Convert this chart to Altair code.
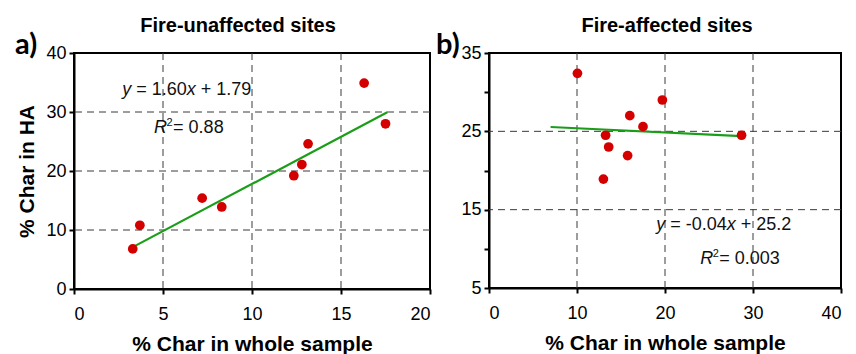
import altair as alt
import pandas as pd

# ---------------- data ----------------
a_x = [3.3, 3.7, 7.2, 8.3, 12.35, 12.8, 13.15, 16.3, 17.5]
a_y = [6.8, 10.8, 15.4, 13.9, 19.2, 21.1, 24.6, 34.9, 28.0]
a_fit_x = [3.3, 17.6]
a_fit_y = [7.1, 29.95]

b_x = [10.05, 19.7, 16.0, 17.5, 13.25, 13.6, 15.75, 13.0, 28.7]
b_y = [32.4, 29.0, 27.0, 25.6, 24.5, 23.0, 21.9, 18.9, 24.5]
b_fit_x = [7.0, 28.7]
b_fit_y = [25.55, 24.4]

a_x_ticks = [0, 5, 10, 15, 20]
a_y_ticks = [0, 10, 20, 30, 40]
a_grid_x = [5, 10, 15]
a_grid_y = [10, 20, 30]

b_x_ticks = [0, 10, 20, 30, 40]
b_y_ticks = [5, 10, 15, 20, 25, 30, 35]
b_grid_x = [10, 20, 30]
b_grid_y = [15, 25]

FONT = "Liberation Sans"
RED = "#d40000"
GREEN = "#1a9e1a"
GRID = "#3a3a3a"


def panel(px, py, fx, fy, xdom, ydom, xt, yt, gx, gy, title, title_dx,
          letter, letter_dx, ytitle, ylabel_expr, eq1, eq2, w, h):
    xs = alt.Scale(domain=xdom, nice=False, zero=False)
    ys = alt.Scale(domain=ydom, nice=False, zero=False)
    xaxis = alt.Axis(values=xt, title="% Char in whole sample", format="d")
    yargs = dict(values=yt, format="d")
    if ylabel_expr:
        yargs["labelExpr"] = ylabel_expr
    yaxis = alt.Axis(title=ytitle, **yargs) if ytitle else alt.Axis(title=None, **yargs)

    def X(f):
        return alt.X(f"{f}:Q", scale=xs, axis=xaxis)

    def Y(f):
        return alt.Y(f"{f}:Q", scale=ys, axis=yaxis)

    gvx = alt.Chart(pd.DataFrame({"x": gx})).mark_rule(
        color=GRID, strokeDash=[7, 5], strokeWidth=1).encode(x=X("x"))
    gvy = alt.Chart(pd.DataFrame({"y": gy})).mark_rule(
        color=GRID, strokeDash=[7, 5], strokeWidth=1).encode(y=Y("y"))
    fit = alt.Chart(pd.DataFrame({"x": fx, "y": fy})).mark_line(
        color=GREEN, strokeWidth=2.2).encode(x=X("x"), y=Y("y"))
    pts = alt.Chart(pd.DataFrame({"x": px, "y": py})).mark_circle(
        color=RED, size=95, opacity=1).encode(x=X("x"), y=Y("y"))

    layers = [gvx, gvy, fit, pts]

    (ex, ey, pieces1), (rx, ry, pieces2) = eq1, eq2
    eqdf1 = pd.DataFrame({"x": [ex], "y": [ey]})
    for txt, off, style in pieces1:
        layers.append(alt.Chart(eqdf1).mark_text(
            text=txt, align="left", baseline="middle", font=FONT,
            fontSize=18, fontStyle=style, dx=off, color="#111111").encode(
            x=X("x"), y=Y("y")))
    eqdf2 = pd.DataFrame({"x": [rx], "y": [ry]})
    for txt, off, style, size, dy in pieces2:
        layers.append(alt.Chart(eqdf2).mark_text(
            text=txt, align="left", baseline="middle", font=FONT,
            fontSize=size, fontStyle=style, dx=off, dy=dy, color="#111111").encode(
            x=X("x"), y=Y("y")))

    lab = alt.Chart(pd.DataFrame({"t": [letter]})).mark_text(
        align="left", baseline="alphabetic", font="Lato", fontSize=29,
        fontWeight="bold", color="black").encode(
        text="t:N", x=alt.value(letter_dx), y=alt.value(1))
    layers.append(lab)

    return alt.layer(*layers).properties(
        width=w, height=h,
        title=alt.TitleParams(title, font=FONT, fontSize=20, fontWeight="bold",
                              anchor="middle", dx=title_dx, offset=-5, frame="group",
                              color="black"))


# text pieces: (text, x-offset in px, style)
eq_a1 = (2.71, 33.8, [("y", 0, "italic"), ("= 1.60", 14, "normal"),
                      ("x", 64.5, "italic"), ("+ 1.79", 78.5, "normal")])
eq_a2 = (4.5, 27.3, [("R", 0, "italic", 18, 0), ("2", 12.5, "normal", 11, -5),
                     ("= 0.88", 19, "normal", 18, 0)])
eq_b1 = (19.0, 13.1, [("y", 0, "italic"), ("= -0.04", 14, "normal"),
                      ("x", 70.5, "italic"), ("+ 25.2", 84.5, "normal")])
eq_b2 = (24.0, 8.7, [("R", 0, "italic", 18, 0), ("2", 12.5, "normal", 11, -5),
                     ("= 0.003", 19, "normal", 18, 0)])

pa = panel(a_x, a_y, a_fit_x, a_fit_y, [0, 20], [0, 40], a_x_ticks, a_y_ticks,
           a_grid_x, a_grid_y, "Fire-unaffected sites", -14, "a)", -59, "% Char in HA",
           None, eq_a1, eq_a2, 356, 236)
pb = panel(b_x, b_y, b_fit_x, b_fit_y, [0, 40], [5, 35], b_x_ticks, b_y_ticks,
           b_grid_x, b_grid_y, "Fire-affected sites", 2, "b)", -53, None,
           "datum.value % 10 == 5 ? datum.label : ''", eq_b1, eq_b2, 352, 235)

chart = alt.hconcat(pa, pb, spacing=3).properties(
    padding={"left": 14, "top": 15, "right": 0, "bottom": 0}
).configure_view(
    stroke="black", strokeWidth=2
).configure_axis(
    domainColor="black", domainWidth=2, tickColor="black", tickWidth=2,
    tickSize=5, labelFont=FONT, labelFontSize=18, labelColor="black",
    titleFont=FONT, titleFontSize=21, titleFontWeight="bold",
    titleColor="black", grid=False
).configure_axisX(titlePadding=10, labelPadding=11
).configure_axisY(titlePadding=8, labelPadding=3)

chart.save("out.html", embed_options={"renderer": "svg", "actions": False})
